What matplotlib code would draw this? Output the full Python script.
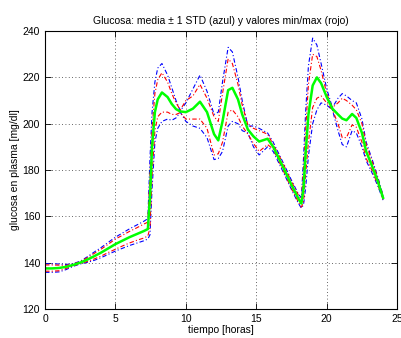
import numpy as np
import matplotlib
matplotlib.use("Agg")
import matplotlib.pyplot as plt

# ── Data ──────────────────────────────────────────────────────────────────────
tiempo = [0, 0.5, 1, 1.5, 2, 2.5, 3, 3.5, 4, 4.5, 5, 5.5, 6, 6.5, 7, 7.3, 7.45, 7.6,
          7.8, 8.0, 8.3, 8.7, 9.0, 9.3, 9.6, 10.0, 10.5, 11.0, 11.5, 12.0, 12.3, 12.6,
          13.0, 13.3, 13.7, 14.0, 14.4, 14.8, 15.2, 15.8, 16.2, 16.6, 17.0, 17.5, 18.0,
          18.2, 18.35, 18.5, 18.7, 19.0, 19.3, 19.6, 20.0, 20.4, 20.8, 21.1, 21.4, 21.8,
          22.1, 22.5, 22.8, 23.2, 23.6, 24.0]

media = [137.5, 137.5, 137.7, 138.2, 139.0, 140.0, 141.3, 142.8, 144.4, 146.2, 148.0,
         149.5, 151.0, 152.3, 153.6, 154.5, 168, 190, 205, 210.5, 213.5, 211.5, 208.5,
         206.3, 205.3, 205.0, 206.5, 209.5, 205.0, 195.5, 192.8, 201, 214.5, 215.5,
         210.5, 204, 197.5, 194.5, 192.3, 193.5, 190, 185, 180, 173.5, 167.5, 165.5,
         172, 187, 204, 216.5, 220, 217.5, 211.5, 206.5, 204, 202.2, 201.5, 204.2,
         202.5, 196, 188, 182, 175.5, 168]

std_sup = [139.5, 139.5, 139.4, 139.2, 139.6, 140.6, 142.5, 144.6, 146.6, 148.8, 151.0,
           152.8, 154.6, 156.2, 157.8, 159.0, 185, 205, 218, 224, 226, 221, 215.5, 210,
           205.5, 209, 215, 221, 214, 204, 205, 218, 233, 231, 220, 210, 199, 199, 198,
           196, 192, 187, 182, 175.5, 169.5, 168, 185, 205, 225, 237, 234, 226, 215,
           207, 211, 213, 212, 210, 209, 202, 192, 185, 177.5, 169]

std_inf = [135.8, 135.8, 136.0, 137.0, 138.4, 139.4, 140.1, 141.0, 142.2, 143.6, 145.0,
           146.2, 147.4, 148.4, 149.4, 150.2, 152, 172, 192, 198, 201, 202, 201.5, 202.5,
           205, 201, 199, 198, 194, 184.5, 185, 188, 199, 201, 200, 197, 196, 190, 186.5,
           190, 188, 183, 178, 171.5, 165.5, 163.5, 165, 172, 186, 200, 206, 209, 208,
           206, 197, 191, 190, 197, 196, 190, 184, 179, 173.5, 167]

val_max = [139.0, 139.0, 138.9, 138.8, 139.4, 140.4, 142.1, 144.0, 145.9, 148.0, 150.2,
           151.8, 153.5, 155.0, 156.6, 157.5, 178, 198, 213, 219, 222, 218, 213, 209,
           206, 210, 212, 217, 211, 203, 201, 213, 228, 226, 217, 208, 199.5, 198, 197,
           195.5, 191, 186.5, 181.5, 175, 169, 167, 180, 197, 217, 230, 229, 223, 213,
           207, 209, 211, 210, 208, 206, 200, 191, 184, 177, 168.7]

val_min = [136.3, 136.3, 136.5, 137.5, 138.6, 139.6, 140.5, 141.6, 142.9, 144.4, 145.8,
           147.2, 148.5, 149.6, 150.6, 151.5, 155, 178, 197, 203, 205, 205, 204, 204,
           204.8, 202, 202, 202, 198, 186.5, 187, 192, 205, 206, 203, 199, 195.5, 191.5,
           188, 191, 189, 183.8, 178.6, 172, 166, 164, 166, 178, 192, 207, 211, 212, 209,
           206, 200, 194, 194, 199.5, 198.5, 192, 185, 180, 174, 167.3]

plt.rcParams.update({
    "font.family": ["Liberation Sans", "DejaVu Sans"],
    "font.size": 7.5,
})

fig = plt.figure(figsize=(4.02, 3.38), dpi=100)
ax = fig.add_axes([0.112, 0.086, 0.876, 0.822])

dd = (4, 2, 1, 2)
ax.plot(tiempo, std_sup, color="#0000ff", lw=0.8, dashes=dd)
ax.plot(tiempo, std_inf, color="#0000ff", lw=0.8, dashes=dd)
ax.plot(tiempo, val_max, color="#ff0000", lw=0.8, dashes=dd)
ax.plot(tiempo, val_min, color="#ff0000", lw=0.8, dashes=dd)
ax.plot(tiempo, media, color="#00ff00", lw=1.8)

ax.set_xlim(0, 25)
ax.set_ylim(120, 240)
ax.set_xticks([0, 5, 10, 15, 20, 25])
ax.set_yticks([120, 140, 160, 180, 200, 220, 240])
ax.grid(True, color="#333333", linestyle=(0, (1, 3)), linewidth=0.6)
ax.tick_params(direction="in", length=4, width=0.6, top=True, right=True, labelsize=7.5)
for s in ax.spines.values():
    s.set_linewidth(0.8)

ax.set_title("Glucosa: media \u00b1 1 STD (azul) y valores min/max (rojo)", fontsize=7.5, pad=5)
ax.set_xlabel("tiempo [horas]", fontsize=7.5, labelpad=1)
ax.set_ylabel("glucosa en plasma [mg/dl]", fontsize=7.5, labelpad=2)

fig.savefig("out.png", dpi=100)
